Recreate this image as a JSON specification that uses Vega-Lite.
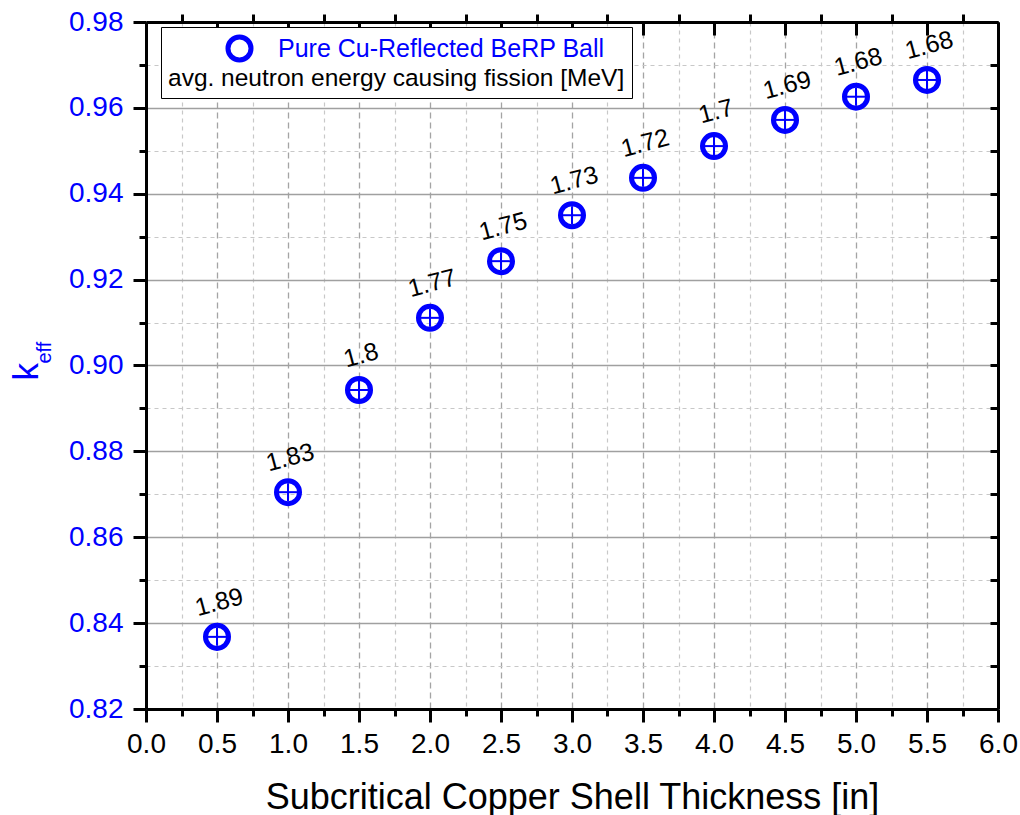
{
  "$schema": "https://vega.github.io/schema/vega-lite/v6.json",
  "width": 852,
  "height": 687,
  "autosize": "none",
  "padding": {"left": 146, "top": 22, "right": 22, "bottom": 106},
  "config": {
    "font": "Liberation Sans",
    "view": {"stroke": null},
    "axis": {"domainColor": "black", "tickColor": "black", "domainWidth": 3, "tickWidth": 3, "titleFontWeight": "normal", "labelFlush": false, "labelOverlap": false}
  },
  "data": {
    "values": [
      {"t": 0.5, "keff": 0.8368, "E": "1.89"},
      {"t": 1.0, "keff": 0.8705, "E": "1.83"},
      {"t": 1.5, "keff": 0.8943, "E": "1.8"},
      {"t": 2.0, "keff": 0.9111, "E": "1.77"},
      {"t": 2.5, "keff": 0.9243, "E": "1.75"},
      {"t": 3.0, "keff": 0.9350, "E": "1.73"},
      {"t": 3.5, "keff": 0.9437, "E": "1.72"},
      {"t": 4.0, "keff": 0.9511, "E": "1.7"},
      {"t": 4.5, "keff": 0.9572, "E": "1.69"},
      {"t": 5.0, "keff": 0.9626, "E": "1.68"},
      {"t": 5.5, "keff": 0.9665, "E": "1.68"}
    ]
  },
  "resolve": {"axis": {"x": "independent", "y": "independent"}},
  "layer": [
    {
      "mark": {"type": "point", "shape": "circle", "filled": false, "strokeWidth": 5, "size": 530, "opacity": 1},
      "encoding": {
        "x": {
          "field": "t", "type": "quantitative",
          "scale": {"domain": [0, 6], "nice": false, "zero": false},
          "axis": {
            "orient": "bottom",
            "values": [0, 0.5, 1, 1.5, 2, 2.5, 3, 3.5, 4, 4.5, 5, 5.5, 6],
            "format": ".1f",
            "labelFontSize": 28, "labelColor": "black", "labelPadding": 8,
            "tickSize": 13,
            "grid": true, "gridColor": "#a4a4a4", "gridDash": [6, 4], "gridWidth": 1.3,
            "title": "Subcritical Copper Shell Thickness [in]",
            "titleFontSize": 36, "titleColor": "black",
            "titleBaseline": "alphabetic", "titleY": 99
          }
        },
        "y": {
          "field": "keff", "type": "quantitative",
          "scale": {"domain": [0.82, 0.98], "nice": false, "zero": false},
          "axis": {
            "orient": "left",
            "values": [0.82, 0.84, 0.86, 0.88, 0.9, 0.92, 0.94, 0.96, 0.98],
            "format": ".2f",
            "labelFontSize": 28, "labelColor": "#0000ff", "labelPadding": 10,
            "tickSize": 13,
            "grid": true, "gridColor": "#a0a0a0", "gridWidth": 1.4,
            "title": "k", "titleFontSize": 35, "titleColor": "#0000ff",
            "titleAngle": -90, "titleAlign": "left", "titleBaseline": "alphabetic",
            "titleX": -109, "titleY": 358
          }
        },
        "color": {
          "datum": "Pure Cu-Reflected BeRP Ball",
          "scale": {"range": ["#0000ff"]},
          "legend": {
            "orient": "none", "legendX": 15, "legendY": 5,
            "direction": "vertical",
            "padding": 7,
            "strokeColor": "black", "fillColor": "white", "cornerRadius": 0,
            "symbolType": "circle", "symbolSize": 530, "symbolStrokeWidth": 5,
            "symbolOffset": 57, "labelOffset": 24,
            "labelFontSize": 25, "labelColor": "#0000ff", "labelLimit": 1000,
            "title": "avg. neutron energy causing fission [MeV]\u00a0\u00a0\u00a0",
            "titleOrient": "bottom", "titleFontSize": 24.5, "titleFontWeight": "normal",
            "titleColor": "black", "titleLimit": 1000, "titlePadding": -3
          }
        }
      }
    },
    {
      "mark": {"type": "point", "shape": "M-1,0H1", "filled": false, "strokeWidth": 2, "size": 324, "color": "#0000ff", "opacity": 1},
      "encoding": {
        "x": {
          "field": "t", "type": "quantitative",
          "axis": {
            "orient": "bottom",
            "values": [0.25, 0.75, 1.25, 1.75, 2.25, 2.75, 3.25, 3.75, 4.25, 4.75, 5.25, 5.75],
            "labels": false, "domain": false, "tickSize": 7,
            "grid": true, "gridColor": "#c8c8c8", "gridDash": [4, 4], "gridWidth": 1.2,
            "title": null
          }
        },
        "y": {
          "field": "keff", "type": "quantitative",
          "axis": {
            "orient": "left",
            "values": [0.83, 0.85, 0.87, 0.89, 0.91, 0.93, 0.95, 0.97],
            "labels": false, "domain": false, "tickSize": 7,
            "grid": true, "gridColor": "#c8c8c8", "gridDash": [4, 4], "gridWidth": 1.2,
            "title": null
          }
        }
      }
    },
    {
      "mark": {"type": "text", "fontSize": 25, "angle": -15, "dy": -33, "dx": 11, "align": "center", "baseline": "middle", "color": "black"},
      "encoding": {
        "x": {
          "field": "t", "type": "quantitative",
          "axis": {
            "orient": "top",
            "values": [0, 0.5, 1, 1.5, 2, 2.5, 3, 3.5, 4, 4.5, 5, 5.5, 6],
            "labels": false, "tickSize": -13, "grid": false, "title": null
          }
        },
        "y": {
          "field": "keff", "type": "quantitative",
          "axis": {
            "orient": "right",
            "values": [0.82, 0.83, 0.84, 0.85, 0.86, 0.87, 0.88, 0.89, 0.9, 0.91, 0.92, 0.93, 0.94, 0.95, 0.96, 0.97, 0.98],
            "labels": false, "tickSize": -8, "grid": false, "title": null
          }
        },
        "text": {"field": "E", "type": "nominal"}
      }
    },
    {
      "mark": {"type": "point", "shape": "M0,-1V1", "filled": false, "strokeWidth": 2, "size": 324, "color": "#0000ff", "opacity": 1},
      "encoding": {
        "x": {
          "field": "t", "type": "quantitative",
          "axis": {
            "orient": "top",
            "values": [0.25, 0.75, 1.25, 1.75, 2.25, 2.75, 3.25, 3.75, 4.25, 4.75, 5.25, 5.75],
            "labels": false, "domain": false, "tickSize": 8, "grid": false, "title": null
          }
        },
        "y": {
          "field": "keff", "type": "quantitative",
          "axis": {
            "orient": "left",
            "labels": false, "ticks": false, "domain": false, "grid": false,
            "title": "eff", "titleFontSize": 20, "titleColor": "#0000ff",
            "titleAngle": -90, "titleAlign": "left", "titleBaseline": "alphabetic",
            "titleX": -96, "titleY": 341
          }
        }
      }
    }
  ]
}
